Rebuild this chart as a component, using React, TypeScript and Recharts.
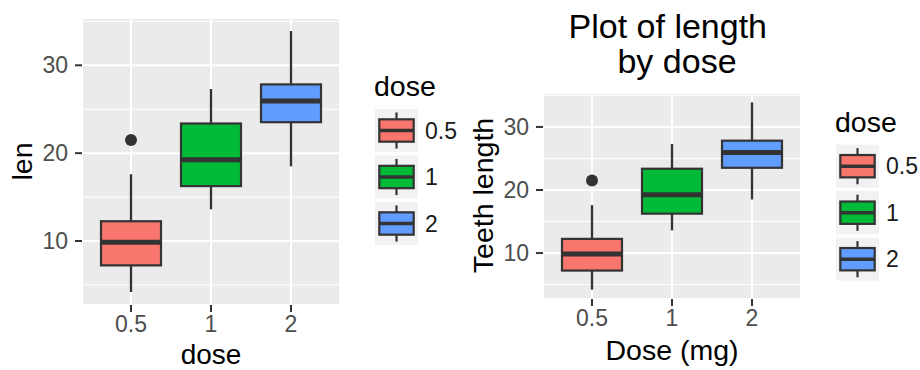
import { Bar, CartesianGrid, ComposedChart, Scatter, XAxis, YAxis } from "recharts";

// ToothGrowth, len by dose — five-number summaries
const doses = ["0.5", "1", "2"];
const lowerWhisker = [4.2, 13.6, 18.5];
const lowerHinge = [7.225, 16.25, 23.525];
const medians = [9.85, 19.25, 25.95];
const upperHinge = [12.25, 23.375, 27.825];
const upperWhisker = [17.6, 27.3, 33.9];
const outlierDoses = ["0.5"];
const outlierLens = [21.5];
const doseColors = ["#F8766D", "#00BA38", "#619CFF"];
const majorTicks = [10, 20, 30];
const minorTicks = [5, 15, 25, 35];

const FONT = '"Liberation Sans", Arial, Helvetica, sans-serif';
const INK = "#333333";

const rows = doses.map((dose, i) => ({
  dose,
  whisker: [lowerWhisker[i], upperWhisker[i]],
  lo: lowerWhisker[i],
  q1: lowerHinge[i],
  med: medians[i],
  q3: upperHinge[i],
  hi: upperWhisker[i],
  fill: doseColors[i],
}));

const outliers = outlierDoses.map((dose, i) => ({ dose, len: outlierLens[i] }));

// ggplot's default 5% expansion of the continuous scale
const allValues = [...lowerWhisker, ...upperWhisker, ...outlierLens];
const dataMin = Math.min(...allValues);
const dataMax = Math.max(...allValues);
const pad = (dataMax - dataMin) * 0.05;
const yDomain = [dataMin - pad, dataMax + pad];

// the bar spans lo..hi, so hinges/median are placed on the same linear scale
function BoxShape(props: any) {
  const { x, y, width, height, payload } = props;
  const top = Math.min(y, y + height);
  const span = Math.abs(height);
  const toY = (v: number) => top + ((payload.hi - v) / (payload.hi - payload.lo)) * span;
  const cx = x + width / 2;
  const yq1 = toY(payload.q1);
  const yq3 = toY(payload.q3);
  return (
    <g>
      <line x1={cx} x2={cx} y1={top} y2={yq3} stroke={INK} strokeWidth={2.3} />
      <line x1={cx} x2={cx} y1={yq1} y2={top + span} stroke={INK} strokeWidth={2.3} />
      <rect x={x} y={yq3} width={width} height={yq1 - yq3} fill={payload.fill} stroke={INK} strokeWidth={2.2} />
      <line x1={x} x2={x + width} y1={toY(payload.med)} y2={toY(payload.med)} stroke={INK} strokeWidth={5} />
    </g>
  );
}

function OutlierDot(props: any) {
  return <circle cx={props.cx} cy={props.cy} r={6} fill={INK} />;
}

interface PanelProps {
  left: number;
  margin: { top: number; right: number; bottom: number; left: number };
}

function BoxPanel({ left, margin }: PanelProps) {
  const tick = { fill: "#4D4D4D", fontSize: 23, fontFamily: FONT };
  const tickLine = { stroke: INK, strokeWidth: 2 };
  return (
    <div style={{ position: "absolute", left, top: 0 }}>
      <ComposedChart width={460} height={370} data={rows} margin={margin}>
        <CartesianGrid
          fill="#EBEBEB"
          fillOpacity={1}
          stroke="#FFFFFF"
          strokeWidth={1}
          vertical={false}
          horizontalValues={minorTicks}
        />
        <CartesianGrid stroke="#FFFFFF" strokeWidth={2} />
        <XAxis
          dataKey="dose"
          type="category"
          allowDuplicatedCategory={false}
          padding={{ left: 9, right: 9 }}
          height={30}
          axisLine={false}
          tickSize={7}
          tickMargin={4}
          tickLine={tickLine}
          tick={tick}
        />
        <YAxis
          type="number"
          domain={yDomain}
          ticks={majorTicks}
          allowDataOverflow
          width={40}
          axisLine={false}
          tickSize={7}
          tickMargin={7}
          tickLine={tickLine}
          tick={tick}
        />
        <Bar dataKey="whisker" barSize={60} shape={<BoxShape />} isAnimationActive={false} />
        <Scatter data={outliers} dataKey="len" shape={<OutlierDot />} isAnimationActive={false} />
      </ComposedChart>
    </div>
  );
}

function DoseLegend({ x, titleY }: { x: number; titleY: number }) {
  const key = 43;
  const pitch = 46.5;
  const firstTop = titleY + 13;
  return (
    <g fontFamily={FONT}>
      <text x={x} y={titleY} fontSize={28.5} fill="#000">
        dose
      </text>
      {doses.map((d, i) => {
        const top = firstTop + i * pitch;
        const cx = x + 1 + key / 2;
        return (
          <g key={d}>
            <rect x={x + 1} y={top} width={key} height={key} fill="#F2F2F2" />
            <line x1={cx} x2={cx} y1={top + key * 0.08} y2={top + key * 0.92} stroke={INK} strokeWidth={2.2} />
            <rect
              x={x + 1 + key * 0.1}
              y={top + key * 0.24}
              width={key * 0.8}
              height={key * 0.52}
              fill={doseColors[i]}
              stroke={INK}
              strokeWidth={2.2}
            />
            <line
              x1={x + 1 + key * 0.1}
              x2={x + 1 + key * 0.9}
              y1={top + key / 2}
              y2={top + key / 2}
              stroke={INK}
              strokeWidth={3.5}
            />
            <text x={x + key + 8} y={top + key / 2} dy="0.355em" fontSize={23} fill="#1A1A1A">
              {d}
            </text>
          </g>
        );
      })}
    </g>
  );
}

export default function App() {
  return (
    <div style={{ position: "absolute", left: 0, top: 0, width: 920, height: 370, background: "#fff" }}>
      <BoxPanel left={0} margin={{ top: 18, right: 120, bottom: 35, left: 42 }} />
      <BoxPanel left={460} margin={{ top: 93, right: 119, bottom: 41, left: 43 }} />
      <svg
        width={920}
        height={370}
        style={{ position: "absolute", left: 0, top: 0, pointerEvents: "none" }}
        fontFamily={FONT}
      >
        {/* left panel titles */}
        <text transform="translate(32,161.5) rotate(-90)" textAnchor="middle" fontSize={28.5} fill="#000">
          len
        </text>
        <text x={211} y={364} textAnchor="middle" fontSize={28} fill="#000">
          dose
        </text>
        <DoseLegend x={374} titleY={96} />

        {/* right panel titles */}
        <text x={667.8} y={37.7} textAnchor="middle" fontSize={34} fill="#000">
          Plot of length
        </text>
        <text x={677} y={72.7} textAnchor="middle" fontSize={34} fill="#000">
          by dose
        </text>
        <text transform="translate(493,195.5) rotate(-90)" textAnchor="middle" fontSize={28.5} fill="#000">
          Teeth length
        </text>
        <text x={672} y={359.5} textAnchor="middle" fontSize={28.5} fill="#000">
          Dose (mg)
        </text>
        <DoseLegend x={835} titleY={131.7} />
      </svg>
    </div>
  );
}
